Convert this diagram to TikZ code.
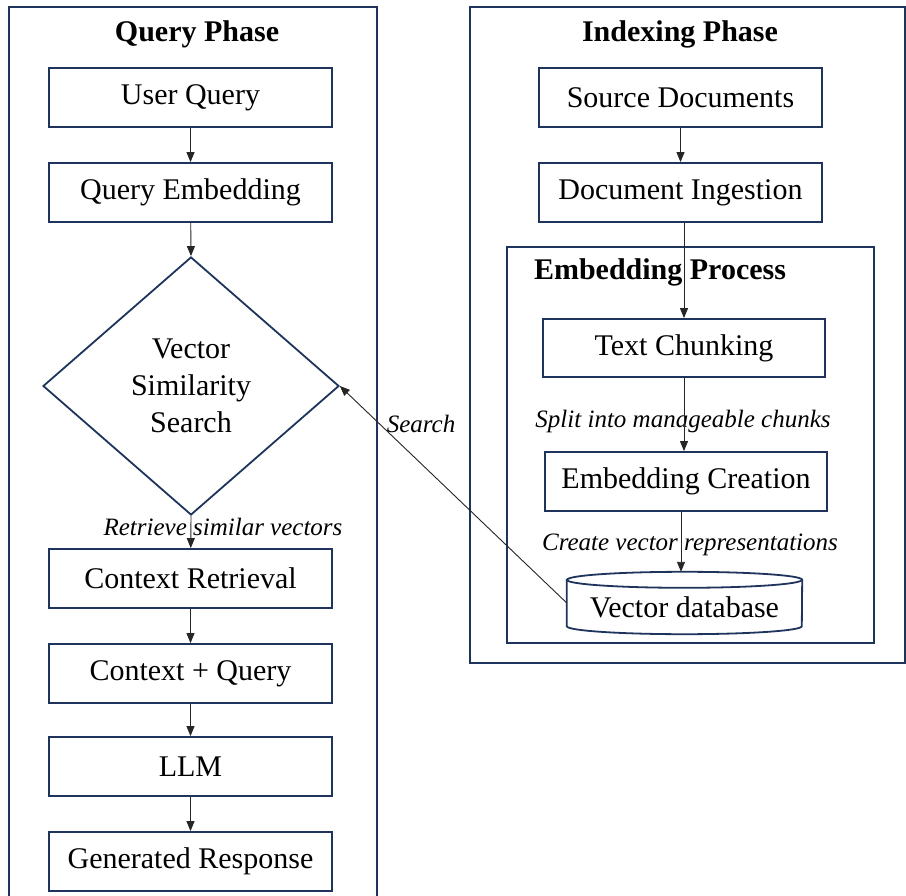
\documentclass[tikz,border=0pt]{standalone}
\usepackage{fontspec}
\setmainfont{Liberation Serif}
\usetikzlibrary{shapes.geometric,arrows.meta}
\definecolor{navy}{RGB}{30,52,92}
\tikzset{
  box/.style={draw=navy, line width=1.8pt, minimum width=283pt, minimum height=59pt, inner sep=0pt, font=\fontsize{30}{36}\selectfont},
  conn/.style={draw=black!85, line width=0.9pt, -{Triangle[length=10pt,width=8pt]}},
  lbl/.style={anchor=base, inner sep=0pt, font=\itshape\fontsize{25}{30}\selectfont},
  ttl/.style={anchor=base, inner sep=0pt, font=\bfseries\fontsize{30}{36}\selectfont},
  cont/.style={draw=navy, line width=1.8pt}
}
\begin{document}
\begin{tikzpicture}[x=1pt,y=-1pt]
\useasboundingbox (0,0) rectangle (906,896);
\clip (0,0) rectangle (906,896);
\fill[white] (0,0) rectangle (906,896);
% containers
\draw[cont] (9,910) -- (9,7) -- (377,7) -- (377,910);
\draw[cont] (470,7) rectangle (905,663);
\draw[cont] (507,247) rectangle (874,643);
% titles
\node[ttl] (tq) at (197,42) {Query Phase};
\node[ttl] (ti) at (680,42) {Indexing Phase};
\node[ttl] (te) at (660,280) {Embedding Process};
% query phase
\node[box] (uq) at (190.5,97.5) {User Query};
\node[box] (qe) at (190.5,192.5) {Query Embedding};
\node[draw=navy, line width=1.8pt, diamond, minimum width=296pt, minimum height=258pt, inner sep=0pt, align=center, font=\fontsize{30}{37}\selectfont] (vss) at (191,386) {Vector\\Similarity\\Search};
\node[box] (cr) at (190.5,578.5) {Context Retrieval};
\node[box] (cq) at (190.5,673.5) {Context + Query};
\node[box] (llm) at (190.5,766.5) {LLM};
\node[box] (gr) at (190.5,861.5) {Generated Response};
% indexing phase
\node[box] (sd) at (680.5,97.5) {Source Documents};
\node[box] (di) at (680.5,192.5) {Document Ingestion};
\node[box, minimum width=282pt, minimum height=58pt] (tc) at (684,348) {Text Chunking};
\node[box, minimum width=282pt] (ec) at (686,481.5) {Embedding Creation};
\node[inner sep=0pt, minimum width=235pt, minimum height=62pt, font=\fontsize{30}{36}\selectfont, text height=32pt, text depth=4pt] (db) at (684.5,603) {Vector database};
\draw[navy, line width=1.8pt]
  ([yshift=-8pt]db.north west) -- ([yshift=8pt]db.south west)
  arc[start angle=180, end angle=360, x radius=117.5pt, y radius=8pt]
  -- ([yshift=-8pt]db.north east)
  arc[start angle=0, end angle=180, x radius=117.5pt, y radius=8pt] -- cycle;
\draw[navy, line width=1.8pt] ([yshift=-8pt]db.north west)
  arc[start angle=180, end angle=360, x radius=117.5pt, y radius=8pt];
% labels
\node[lbl] (lr) at (223,535) {Retrieve similar vectors};
\node[lbl] (ls) at (683,428) {Split into manageable chunks};
\node[lbl] (lc) at (690,550) {Create vector representations};
\node[lbl] (lsr) at (421,432) {Search};
% connectors
\draw[conn] (uq) -- (qe);
\draw[conn] (qe) -- (vss.north);
\draw[conn] (vss.south) -- (cr);
\draw[conn] (cr) -- (cq);
\draw[conn] (cq) -- (llm);
\draw[conn] (llm) -- (gr);
\draw[conn] (sd) -- (di);
\draw[conn] (di.south -| tc.north) -- (tc.north);
\draw[conn] (tc) -- (tc.south |- ec.north);
\draw[conn] (ec.south -| 681,0) -- (681,0 |- db.north);
\draw[conn] (db.west) -- (vss.east);
\end{tikzpicture}
\end{document}
